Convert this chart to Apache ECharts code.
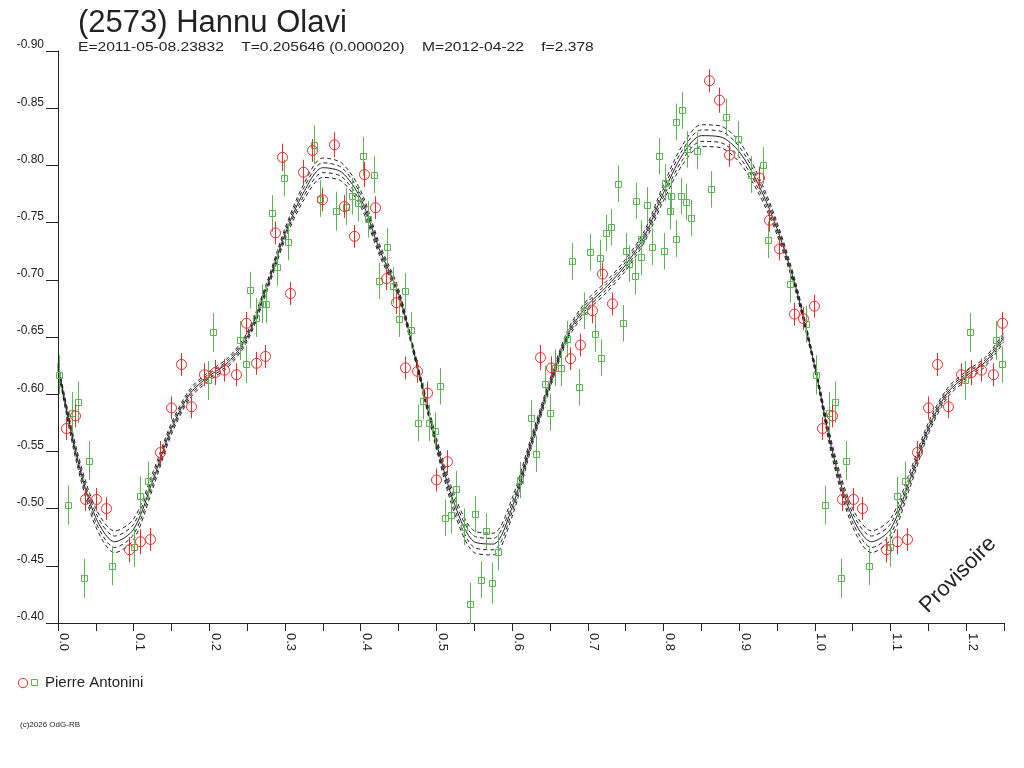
<!DOCTYPE html>
<html>
<head>
<meta charset="utf-8">
<title>(2573) Hannu Olavi</title>
<script src="https://cdn.jsdelivr.net/npm/echarts@6/dist/echarts.min.js"></script>
<style>
  html, body { margin: 0; padding: 0; background: #fff; }
  #chart { width: 1024px; height: 768px; }
</style>
</head>
<body>
<div id="chart"></div>
<script>
// phase grid of the fitted curve, one period (0..1); the part 1..1.25 repeats it
var curvePhase = [0, 0.025, 0.05, 0.075, 0.1, 0.125, 0.15, 0.175, 0.2, 0.225,
  0.25, 0.275, 0.3, 0.325, 0.35, 0.375, 0.4, 0.425, 0.45, 0.475,
  0.5, 0.525, 0.55, 0.575, 0.6, 0.625, 0.65, 0.675, 0.7, 0.725,
  0.75, 0.775, 0.8, 0.825, 0.85, 0.875, 0.9, 0.925, 0.95, 0.975, 1.0];
// magnitude of the fit
var curveMag = [-0.624, -0.545, -0.492, -0.471, -0.482, -0.524, -0.570, -0.601, -0.616, -0.628,
  -0.650, -0.692, -0.740, -0.777, -0.798, -0.794, -0.771, -0.726, -0.688, -0.624,
  -0.557, -0.502, -0.471, -0.469, -0.501, -0.557, -0.609, -0.654, -0.678, -0.694,
  -0.713, -0.738, -0.776, -0.809, -0.826, -0.825, -0.812, -0.784, -0.745, -0.693, -0.624];
// half width of the dashed envelopes (outer / inner pair)
var bandOuter = [0.003, 0.006, 0.008, 0.0095, 0.009, 0.007, 0.005, 0.004, 0.004, 0.004,
  0.004, 0.004, 0.005, 0.007, 0.0085, 0.008, 0.007, 0.005, 0.004, 0.003,
  0.005, 0.008, 0.0095, 0.0095, 0.008, 0.005, 0.004, 0.004, 0.005, 0.005,
  0.005, 0.005, 0.007, 0.0085, 0.0095, 0.0095, 0.009, 0.0075, 0.0055, 0.004, 0.003];
var bandInner = [0.0015, 0.003, 0.004, 0.005, 0.0045, 0.0035, 0.0025, 0.002, 0.002, 0.002,
  0.002, 0.002, 0.0025, 0.0035, 0.0043, 0.004, 0.0035, 0.0025, 0.002, 0.0015,
  0.0025, 0.004, 0.005, 0.005, 0.004, 0.0025, 0.002, 0.002, 0.0025, 0.0025,
  0.0025, 0.0025, 0.0035, 0.0043, 0.005, 0.005, 0.0045, 0.0038, 0.0028, 0.002, 0.0015];

// [phase, magnitude, error]  -- red circles
var redPts = [
  [0.010, -0.570, 0.010], [0.023, -0.581, 0.010], [0.036, -0.508, 0.010], [0.050, -0.508, 0.010],
  [0.063, -0.500, 0.010], [0.094, -0.464, 0.011], [0.108, -0.471, 0.011], [0.122, -0.473, 0.010],
  [0.135, -0.549, 0.010], [0.149, -0.588, 0.010], [0.162, -0.626, 0.010], [0.176, -0.589, 0.010],
  [0.193, -0.617, 0.010], [0.207, -0.619, 0.011], [0.220, -0.621, 0.010], [0.235, -0.617, 0.010],
  [0.248, -0.662, 0.010], [0.261, -0.627, 0.010], [0.274, -0.633, 0.010], [0.287, -0.741, 0.010],
  [0.296, -0.807, 0.012], [0.306, -0.688, 0.010], [0.324, -0.794, 0.011], [0.336, -0.813, 0.010],
  [0.349, -0.770, 0.010], [0.365, -0.818, 0.011], [0.378, -0.764, 0.010], [0.391, -0.738, 0.010],
  [0.404, -0.792, 0.011], [0.419, -0.763, 0.010], [0.433, -0.701, 0.010], [0.446, -0.680, 0.010],
  [0.459, -0.623, 0.010], [0.474, -0.620, 0.010], [0.487, -0.601, 0.010], [0.500, -0.525, 0.010],
  [0.514, -0.541, 0.010], [0.637, -0.632, 0.011], [0.651, -0.623, 0.010], [0.677, -0.631, 0.010],
  [0.690, -0.643, 0.010], [0.706, -0.673, 0.011], [0.719, -0.705, 0.010], [0.732, -0.679, 0.010],
  [0.860, -0.874, 0.010], [0.873, -0.857, 0.011], [0.887, -0.809, 0.010], [0.926, -0.789, 0.010],
  [0.940, -0.752, 0.010], [0.953, -0.727, 0.010], [0.973, -0.670, 0.010], [0.985, -0.666, 0.010],
  [0.999, -0.677, 0.010]
];
// [phase, magnitude, error]  -- green squares
var greenPts = [
  [0.001, -0.617, 0.017], [0.013, -0.503, 0.017], [0.019, -0.584, 0.018], [0.027, -0.593, 0.018],
  [0.035, -0.439, 0.017], [0.041, -0.542, 0.017], [0.071, -0.450, 0.017], [0.100, -0.466, 0.017],
  [0.108, -0.511, 0.017], [0.119, -0.524, 0.017], [0.198, -0.612, 0.017], [0.205, -0.654, 0.017],
  [0.240, -0.647, 0.017], [0.248, -0.626, 0.016], [0.254, -0.691, 0.016], [0.261, -0.667, 0.017],
  [0.269, -0.679, 0.017], [0.275, -0.679, 0.017], [0.283, -0.758, 0.016], [0.290, -0.711, 0.016],
  [0.298, -0.789, 0.016], [0.304, -0.733, 0.016], [0.338, -0.818, 0.017], [0.346, -0.771, 0.016],
  [0.367, -0.760, 0.017], [0.381, -0.764, 0.016], [0.389, -0.773, 0.016], [0.396, -0.767, 0.016],
  [0.403, -0.808, 0.017], [0.410, -0.753, 0.016], [0.417, -0.792, 0.016], [0.424, -0.699, 0.016],
  [0.435, -0.729, 0.016], [0.443, -0.695, 0.016], [0.451, -0.666, 0.016], [0.459, -0.690, 0.016],
  [0.467, -0.656, 0.016], [0.476, -0.575, 0.016], [0.482, -0.594, 0.016], [0.490, -0.575, 0.016],
  [0.498, -0.568, 0.016], [0.505, -0.607, 0.016], [0.512, -0.492, 0.016], [0.519, -0.494, 0.016],
  [0.526, -0.517, 0.016], [0.537, -0.484, 0.016], [0.544, -0.417, 0.018], [0.551, -0.495, 0.016],
  [0.559, -0.438, 0.016], [0.566, -0.480, 0.016], [0.573, -0.435, 0.018], [0.582, -0.462, 0.016],
  [0.611, -0.525, 0.016], [0.625, -0.579, 0.016], [0.632, -0.548, 0.016], [0.643, -0.609, 0.016],
  [0.650, -0.584, 0.016], [0.657, -0.623, 0.016], [0.665, -0.623, 0.016], [0.672, -0.648, 0.016],
  [0.679, -0.716, 0.016], [0.688, -0.606, 0.016], [0.695, -0.673, 0.016], [0.703, -0.724, 0.016],
  [0.709, -0.653, 0.016], [0.716, -0.719, 0.016], [0.718, -0.632, 0.016], [0.724, -0.741, 0.016],
  [0.731, -0.746, 0.016], [0.740, -0.784, 0.016], [0.747, -0.662, 0.016], [0.750, -0.725, 0.016],
  [0.755, -0.714, 0.016], [0.762, -0.703, 0.016], [0.764, -0.769, 0.016], [0.770, -0.720, 0.016],
  [0.771, -0.736, 0.016], [0.778, -0.765, 0.016], [0.785, -0.729, 0.016], [0.794, -0.808, 0.016],
  [0.801, -0.725, 0.016], [0.802, -0.785, 0.016], [0.809, -0.760, 0.016], [0.810, -0.773, 0.016],
  [0.816, -0.736, 0.016], [0.817, -0.838, 0.016], [0.823, -0.773, 0.016], [0.824, -0.848, 0.016],
  [0.830, -0.768, 0.016], [0.831, -0.814, 0.016], [0.837, -0.754, 0.016], [0.844, -0.813, 0.016],
  [0.863, -0.779, 0.016], [0.883, -0.842, 0.016], [0.898, -0.823, 0.016], [0.916, -0.792, 0.016],
  [0.931, -0.800, 0.016], [0.938, -0.735, 0.016], [0.967, -0.696, 0.016], [0.989, -0.661, 0.016]
];

var xMin = 0, xMax = 1.25, xStep = 0.05;
var yMin = -0.90, yMax = -0.40, yStep = 0.05;

var titleText = '(2573) Hannu Olavi';
var infoText = 'E=2011-05-08.23832    T=0.205646 (0.000020)    M=2012-04-22    f=2.378';
var observer = 'Pierre Antonini';

var RED = '#f02a2a', GREEN = '#5ab552', INK = '#222';
var FONT = '"Liberation Sans", Arial, sans-serif';

// the plot shows phase 0..1.25: repeat what lies under 0.25 one period later
function wrapPoints(pts) {
  var out = pts.slice();
  pts.forEach(function (d) {
    if (d[0] <= xMax - 1) out.push([d[0] + 1, d[1], d[2]]);
  });
  return out;
}
function curveLine(offset, sign) {
  var out = [];
  function at(i, shift) {
    var o = offset ? offset[i] * sign : 0;
    out.push([curvePhase[i] + shift, curveMag[i] + o]);
  }
  for (var i = 0; i < curvePhase.length; i++) at(i, 0);
  for (var j = 1; j < curvePhase.length && curvePhase[j] <= xMax - 1 + 1e-9; j++) at(j, 1);
  return out;
}

function pointRenderer(kind, color) {
  return function (params, api) {
    var p = api.value(0), m = api.value(1), e = api.value(2);
    var c = api.coord([p, m]);
    var a = api.coord([p, m - e]);
    var b = api.coord([p, m + e]);
    var x = Math.round(c[0]) + 0.5;
    var y = Math.round(c[1]) + 0.5;
    var marker = kind === 'circle'
      ? { type: 'circle', shape: { cx: x, cy: c[1], r: 5 },
          style: { fill: 'none', stroke: color, lineWidth: 1 } }
      : { type: 'rect', shape: { x: x - 3, y: y - 3, width: 6, height: 6 },
          style: { fill: 'none', stroke: color, lineWidth: 1 } };
    return {
      type: 'group',
      children: [
        { type: 'line', shape: { x1: x, y1: a[1], x2: x, y2: b[1] },
          style: { stroke: color, lineWidth: 1 } },
        marker
      ]
    };
  };
}

function fitSeries(offset, sign, dashed) {
  return {
    type: 'line',
    data: curveLine(offset, sign),
    smooth: 0.3,
    showSymbol: false,
    silent: true,
    z: 2,
    lineStyle: { color: INK, width: 1, type: dashed ? [4, 3] : 'solid' }
  };
}

var chart = echarts.init(document.getElementById('chart'), null, { renderer: 'canvas' });

chart.setOption({
  animation: false,
  backgroundColor: '#fff',
  grid: { left: 58, right: 20, top: 51, bottom: 145, containLabel: false },
  xAxis: {
    type: 'value',
    min: xMin, max: xMax, interval: xStep,
    axisLine: { onZero: false, lineStyle: { color: INK, width: 1 } },
    axisTick: { show: true, inside: false, length: 8, lineStyle: { color: INK } },
    splitLine: { show: false },
    axisLabel: {
      interval: 0,
      rotate: -90,
      margin: 10,
      lineHeight: 12,
      color: INK,
      fontFamily: FONT,
      fontSize: 13,
      showMinLabel: true,
      showMaxLabel: true,
      // trailing blank line pushes the rotated text to the right of its tick
      formatter: function (v) {
        var t = Math.round(v * 100);
        return t % 10 === 0 ? (t / 100).toFixed(1) + '\n ' : '';
      }
    }
  },
  yAxis: {
    type: 'value',
    inverse: true,
    min: yMin, max: yMax, interval: yStep,
    axisLine: { show: true, lineStyle: { color: INK, width: 1 } },
    axisTick: { show: true, inside: false, length: 12, lineStyle: { color: INK } },
    splitLine: { show: false },
    axisLabel: {
      margin: 14,
      verticalAlign: 'bottom',
      color: INK,
      fontFamily: FONT,
      fontSize: 12,
      showMinLabel: true,
      showMaxLabel: true,
      formatter: function (v) { return v.toFixed(2); }
    }
  },
  series: [
    fitSeries(bandOuter, 1, true),
    fitSeries(bandInner, 1, true),
    fitSeries(null, 0, false),
    fitSeries(bandInner, -1, true),
    fitSeries(bandOuter, -1, true),
    {
      type: 'custom',
      name: observer,
      data: wrapPoints(greenPts),
      renderItem: pointRenderer('square', GREEN),
      encode: { x: 0, y: 1 },
      z: 3
    },
    {
      type: 'custom',
      name: observer,
      data: wrapPoints(redPts),
      renderItem: pointRenderer('circle', RED),
      encode: { x: 0, y: 1 },
      z: 4
    }
  ],
  graphic: [
    { type: 'text', x: 78, y: 8,
      style: { text: titleText, font: '31px ' + FONT, fill: INK, verticalAlign: 'top' } },
    { type: 'text', x: 78, y: 42, scaleX: 1.3,
      style: { text: infoText, font: '12px ' + FONT, fill: INK, verticalAlign: 'top' } },
    { type: 'circle', shape: { cx: 23, cy: 683, r: 4.7 },
      style: { fill: 'none', stroke: RED, lineWidth: 1 } },
    { type: 'rect', shape: { x: 31.5, y: 679.5, width: 6, height: 6 },
      style: { fill: 'none', stroke: GREEN, lineWidth: 1 } },
    { type: 'text', x: 45, y: 683,
      style: { text: observer, font: '15px ' + FONT, fill: INK, verticalAlign: 'middle' } },
    { type: 'text', x: 20, y: 725,
      style: { text: '(c)2026 OdG-RB', font: '8px ' + FONT, fill: INK, verticalAlign: 'middle' } },
    { type: 'text', x: 958, y: 575, rotation: Math.PI / 4,
      style: { text: 'Provisoire', font: '22px ' + FONT, fill: INK,
               align: 'center', verticalAlign: 'middle' } }
  ]
});
</script>
</body>
</html>
